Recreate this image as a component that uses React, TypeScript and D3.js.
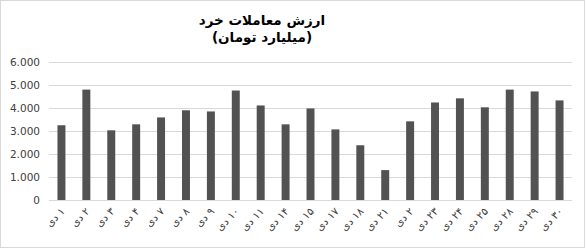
import React from "react";
import * as d3 from "d3";

const categories = ["۱", "۲", "۳", "۴", "۷", "۸", "۹", "۱۰", "۱۱", "۱۴", "۱۵", "۱۷", "۱۸", "۲۱", "۲", "۲۳", "۲۴", "۲۵", "۲۸", "۲۹", "۳۰"];
const values = [3250, 4800, 3030, 3290, 3590, 3900, 3850, 4760, 4110, 3290, 3980, 3070, 2380, 1300, 3420, 4240, 4420, 4030, 4800, 4720, 4330];
const yTicks = [0, 1000, 2000, 3000, 4000, 5000, 6000];
const yTickLabels = ["0", "1.000", "2.000", "3.000", "4.000", "5.000", "6.000"];
const titleLines = ["ارزش معاملات خرد", "(میلیارد تومان)"];
const monthName = "دی";

export default function App() {
  const W = 586, H = 249;
  const left = 49, right = 572, top = 62, bottom = 200;
  const x = d3.scaleBand<string>().domain(categories.map((c, i) => i + "")).range([left, right]).paddingInner(0.68).paddingOuter(0.34);
  const y = d3.scaleLinear().domain([0, 6000]).range([bottom, top]);
  const font = "'DejaVu Sans', Verdana, sans-serif";
  return (
    <svg width={W} height={H} style={{ position: "fixed", left: 0, top: 0, background: "#fff" }}>
      <rect x={0.5} y={0.5} width={W - 2} height={H - 2} fill="#fff" stroke="#d9d9d9" />
      {titleLines.map((t, i) => (
        <text key={i} x={262} y={25 + i * 17} textAnchor="middle" fontFamily={font} fontWeight="bold" fontSize={13.5} fill="#000" direction="rtl">
          {"\u202B" + t + "\u202C"}
        </text>
      ))}
      {yTicks.map((t, i) => (
        <g key={t}>
          <line x1={left} x2={right} y1={y(t) + 0.5} y2={y(t) + 0.5} stroke="#d9d9d9" strokeWidth={1} />
          <text x={40} y={y(t) + 4} textAnchor="end" fontFamily={font} fontSize={10.5} fill="#404040">{yTickLabels[i]}</text>
        </g>
      ))}
      {values.map((v, i) => (
        <rect key={i} x={x(i + "")!} y={y(v)} width={x.bandwidth()} height={y(0) - y(v)} fill="#525252" />
      ))}
      {categories.map((c, i) => {
        const cx = x(i + "")! + x.bandwidth() / 2 + 4;
        const cy = 212;
        return (
          <text key={i} transform={`translate(${cx},${cy}) rotate(-45)`} textAnchor="end" fontFamily={font} fontSize={10.5} fill="#404040">
            {"\u202B" + c + " " + monthName + "\u202C"}
          </text>
        );
      })}
    </svg>
  );
}
